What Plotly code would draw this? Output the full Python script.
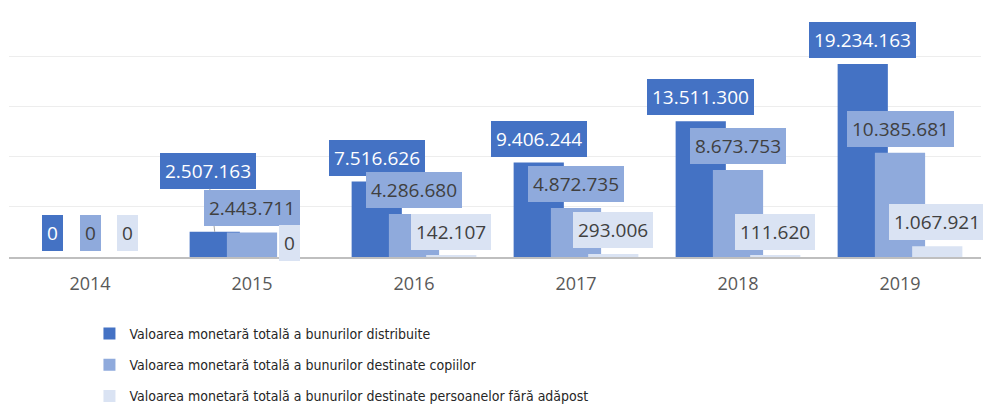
import plotly.graph_objects as go

years = ["2014", "2015", "2016", "2017", "2018", "2019"]
total_distributed = [0, 2507163, 7516626, 9406244, 13511300, 19234163]
for_children = [0, 2443711, 4286680, 4872735, 8673753, 10385681]
for_homeless = [0, 0, 142107, 293006, 111620, 1067921]
series_names = [
    "Valoarea monetară totală a bunurilor distribuite",
    "Valoarea monetară totală a bunurilor destinate copiilor",
    "Valoarea monetară totală a bunurilor destinate persoanelor fără adăpost",
]

colors = ["#4472C4", "#8FAADC", "#DAE3F3"]
text_colors = ["#FFFFFF", "#404040", "#404040"]
bar_width = 0.31
offsets = [-0.385, -0.155, 0.075]

series = [total_distributed, for_children, for_homeless]

fig = go.Figure()
for k, (name, vals) in enumerate(zip(series_names, series)):
    fig.add_trace(go.Bar(
        x=years, y=vals, name=name,
        marker=dict(color=colors[k], line=dict(width=0)),
        width=bar_width, offset=offsets[k], opacity=1,
        legendgroup=f"g{k}", hoverinfo="skip",
    ))

# label placement tweaks (pixel shifts), keyed by (series, year index)
special = {(0, 1): dict(dx=-7, dy=61, arrow=True), (2, 1): dict(dx=0, dy=14)}

annotations = []
for k, vals in enumerate(series):
    for i, v in enumerate(vals):
        xc = i + offsets[k] + bar_width / 2
        txt = f"{v:,}".replace(",", ".")
        sp = special.get((k, i), {})
        dy = sp.get("dy", 24)
        dx = sp.get("dx", 0)
        a = dict(
            x=xc, y=v, xref="x", yref="y", text=txt,
            font=dict(family="Open Sans", size=19, color=text_colors[k]),
            bgcolor=colors[k], borderpad=5, borderwidth=0,
            xanchor="center", yanchor="middle",
        )
        if sp.get("arrow"):
            a.update(showarrow=True, ax=dx, ay=-dy, arrowhead=0,
                     arrowwidth=1, arrowcolor="#A6A6A6", standoff=0)
        else:
            a.update(showarrow=False, xshift=dx, yshift=dy)
        annotations.append(a)

fig.update_layout(
    width=983, height=409,
    margin=dict(l=9, r=2, t=6, b=152, autoexpand=False),
    barmode="overlay",
    plot_bgcolor="white", paper_bgcolor="white",
    showlegend=True,
    legend=dict(
        xref="container", yref="container",
        x=0.091, y=1 - 318 / 409, xanchor="left", yanchor="top",
        traceorder="grouped", tracegroupgap=10,
        font=dict(family="DejaVu Sans Condensed", size=14, color="#262626"),
        bgcolor="rgba(0,0,0,0)",
    ),
    annotations=annotations,
    xaxis=dict(
        type="category", showgrid=False, showline=True, linecolor="#BFBFBF",
        linewidth=2, ticks="", ticklabelstandoff=9,
        tickfont=dict(family="Open Sans", size=18, color="#595959"),
        range=[-0.5, 5.5],
    ),
    yaxis=dict(
        range=[0, 25000000], dtick=5000000, showticklabels=False,
        showgrid=True, gridcolor="#EDEDED", gridwidth=1, zeroline=False,
    ),
)

fig.write_html("out.html", config={"displayModeBar": False},
               post_script="document.body.style.margin='0';")
